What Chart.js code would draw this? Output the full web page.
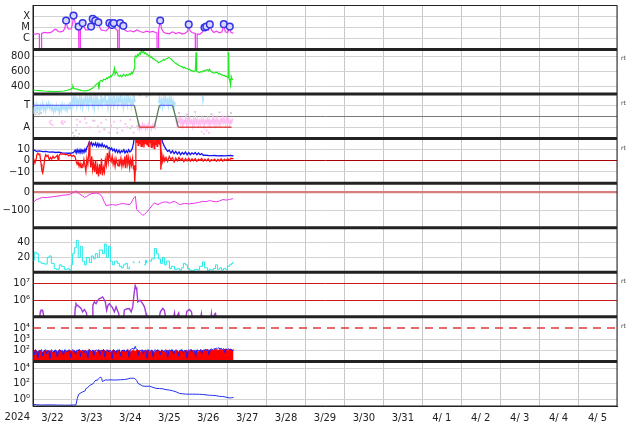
<!DOCTYPE html>
<html>
<head>
<meta charset="utf-8">
<script src="https://cdn.jsdelivr.net/npm/chart.js@4.4.1/dist/chart.umd.min.js"></script>
<style>
    html, body { margin: 0; padding: 0; background: #fff; }
    canvas { display: block; }
</style>
</head>
<body>
<canvas id="spaceWeatherChart" width="634" height="424"></canvas>
<script>
// time axis: hours since 3/22 00:00, one label per day
const yearLabel = '2024';
const dayLabels = ['3/22', '3/23', '3/24', '3/25', '3/26', '3/27', '3/28', '3/29', '3/30', '3/31', '4/ 1', '4/ 2', '4/ 3', '4/ 4', '4/ 5'];

// panel tick values and labels
const xrayTicks = [1e-6, 1e-5, 1e-4];
const xrayTickLabels = ['C', 'M', 'X'];
const windTicks = [400, 600, 800];
const windTickLabels = ['400', '600', '800'];
const sectorTicks = [-1, 0, 1];
const sectorTickLabels = ['A', '', 'T'];
const imfTicks = [-10, 0, 10];
const imfTickLabels = ['\u221210', '0', '10'];
const dstTicks = [-100, 0];
const dstTickLabels = ['\u2212100', '0'];
const densTicks = [20, 40];
const densTickLabels = ['20', '40'];
const pfluxTicks = [1e6, 1e7];
const pfluxTickLabels = ['10\u2076', '10\u2077'];
const elecTicks = [1e2, 1e3, 1e4];
const elecTickLabels = ['10\u00b2', '10\u00b3', '10\u2074'];
const hiprotTicks = [1, 1e2, 1e4];
const hiprotTickLabels = ['10\u2070', '10\u00b2', '10\u2074'];

// series: [hour, value]
const xrayFlux = [[0,2.6e-6],[1.5,2.5e-6],[3,2.8e-6],[3.9,2.6e-6],[4,5e-8],[5.2,5e-8],[5.3,2.8e-6],[7,3.5e-6],[9,3.2e-6],[11,3.5e-6],[12.5,5.0e-6],[13.5,7.0e-6],[14.5,6.5e-6],[15.5,4.3e-6],[17,4.0e-6],[18.5,4.6e-6],[19.6,8e-6],[20.4,4.3e-5],[21.2,1.0e-5],[22,7.0e-6],[23.5,7.5e-6],[24.4,2.0e-5],[25,1.2e-4],[26,2.5e-5],[27,1.7e-5],[28.1,1.2e-5],[28.3,5e-8],[29.1,5e-8],[29.2,1.0e-5],[30.6,2.5e-5],[31.5,1.0e-5],[32.5,6.0e-6],[34,6.0e-6],[35,8e-6],[35.8,1.2e-5],[36.3,1.5e-5],[36.8,6.0e-5],[37.4,2.5e-5],[38.4,4.3e-5],[39.2,2.0e-5],[40.3,3.0e-5],[41,1.2e-5],[42,6e-6],[43.5,5.3e-6],[45,5.0e-6],[46.5,8e-6],[47.1,2.5e-5],[47.8,1.2e-5],[48.7,1.7e-5],[49.7,2.5e-5],[50.5,9e-6],[51.5,6e-6],[52.1,5.5e-6],[52.2,5e-8],[53.1,5e-8],[53.2,8e-6],[53.7,2.5e-5],[54.6,1.0e-5],[55.7,1.4e-5],[56.5,6e-6],[58,4.3e-6],[60,5e-6],[62,4.0e-6],[64,6e-6],[66,4.3e-6],[68,3.5e-6],[70,4.6e-6],[72,3.7e-6],[74,4.3e-6],[75.5,3.5e-6],[76.4,3.2e-6],[76.5,5e-8],[77.3,5e-8],[77.4,5e-6],[78.4,4.3e-5],[79.2,8e-6],[80.5,3.7e-6],[82,3.0e-6],[84,2.6e-6],[86,4.0e-6],[88,2.8e-6],[90,3.5e-6],[92,2.5e-6],[94,3.0e-6],[95.3,4.5e-6],[96,1.9e-5],[96.8,5e-6],[98,3.5e-6],[100,2.8e-6],[100.1,5e-8],[101.1,5e-8],[101.2,2.6e-6],[103,2.5e-6],[104.5,4e-6],[105.7,1.0e-5],[106.3,6e-6],[106.8,1.2e-5],[108,6e-6],[109,1.9e-5],[110,6e-6],[111.5,3.5e-6],[113,4.5e-6],[115,3.2e-6],[116.5,4.0e-6],[117.6,2.0e-5],[118.5,4.0e-6],[120,3.5e-6],[121.3,1.2e-5],[122,3.5e-6],[123.6,3.0e-6]];
const flarePeaks = [[20.4,4.3e-5],[25,1.2e-4],[28.1,1.2e-5],[30.6,2.5e-5],[35.8,1.2e-5],[36.8,6.0e-5],[38.4,4.3e-5],[40.3,3.0e-5],[47.1,2.5e-5],[48.7,1.7e-5],[49.7,2.5e-5],[53.7,2.5e-5],[55.7,1.4e-5],[78.4,4.3e-5],[96,1.9e-5],[105.7,1.0e-5],[106.8,1.2e-5],[109,1.9e-5],[117.6,2.0e-5],[121.3,1.2e-5]];

const windSpeed = [[0,355],[1.4,350],[3.9,346],[7,340],[10,336],[13,331],[16,334],[19,340],[21,350],[23,362],[24.2,378],[24.6,405],[25.2,372],[27.3,366],[29.8,346],[32.3,341],[34.7,352],[36.6,376],[37.8,402],[39.1,430],[40.3,452],[40.6,362],[41.2,470],[42,485],[42.8,470],[43.6,500],[44.6,492],[45.3,515],[45.8,505],[46.5,528],[47.1,520],[47.8,545],[48.3,532],[49,560],[49.5,578],[50.2,645],[50.6,565],[51.3,600],[52,575],[52.6,548],[53.2,535],[54,552],[54.6,530],[55.1,540],[55.8,565],[56.3,550],[57,540],[57.6,560],[58.4,548],[59.4,572],[60,560],[60.7,590],[61.3,575],[61.9,605],[62.4,640],[62.7,780],[63.1,812],[63.8,795],[64.4,830],[65,815],[65.6,850],[66.2,835],[66.8,882],[67.4,860],[68.1,870],[68.7,845],[69.3,855],[70,830],[70.5,838],[71.2,812],[71.8,820],[72.4,795],[73,800],[73.8,775],[74.8,770],[75.6,750],[76.7,742],[77.3,722],[77.9,728],[78.8,740],[79.8,750],[80.4,765],[81,755],[81.8,770],[82.9,780],[83.5,792],[84.1,785],[84.8,775],[85.3,770],[86.2,745],[87.2,725],[88,712],[89,700],[89.6,688],[90.3,680],[91.2,672],[92.1,665],[92.8,650],[93.4,660],[94.3,645],[95.3,640],[95.9,625],[96.4,635],[97.3,618],[98.3,612],[99.2,600],[100.1,618],[100.5,860],[100.9,605],[101.7,595],[102.6,588],[103.5,602],[104.5,598],[105.2,615],[105.7,608],[106.6,622],[107.6,628],[108.2,610],[108.8,634],[109.4,612],[110,600],[110.9,588],[111.9,580],[112.8,595],[113.7,588],[114.4,570],[115,578],[115.7,565],[116.2,560],[117.1,550],[118,548],[118.7,535],[119.3,540],[120,525],[120.4,520],[120.6,865],[120.9,505],[121.4,470],[121.8,420],[122.2,535],[122.7,500],[123.3,490]];

// IMF sector: T = +1, A = -1
const sectorLine = [[0,1],[62.5,1],[65.6,-1],[74.8,-1],[77.9,1],[86,1],[89.6,-1],[122.4,-1]];
const towardAngle = [[0,0.8],[0.6,0.3],[1.2,1.0],[1.8,0.5],[2.4,1.1],[3,0.6],[3.6,0.9],[4.2,0.4],[4.8,1.0],[5.4,0.7],[6,1.2],[6.6,0.6],[7.2,0.9],[7.8,0.5],[8.4,1.1],[9,0.8],[9.6,1.2],[10.2,0.7],[10.8,1.0],[11.4,0.6],[12,0.9],[12.6,0.4],[13.2,0.8],[13.8,0.5],[14.4,1.0],[15,0.6],[15.6,0.8],[16.2,0.3],[16.8,0.9],[17.4,0.5],[18,1.1],[18.6,0.7],[19.2,1.0],[19.8,0.6],[20.4,0.9],[21,0.5],[21.6,1.0],[22.2,0.7],[22.8,1.3],[23.4,0.8],[24,1.6],[24.6,1.0],[25.2,1.8],[25.8,1.2],[26.4,1.7],[27,0.9],[27.6,1.5],[28.2,1.1],[28.8,1.8],[29.4,1.0],[30,1.6],[30.6,0.8],[31.2,1.5],[31.8,1.2],[32.4,1.9],[33,1.1],[33.6,1.6],[34.2,0.9],[34.8,1.7],[35.4,1.3],[36,1.8],[36.6,1.0],[37.2,1.5],[37.8,0.7],[38.4,1.6],[39,1.2],[39.6,1.8],[40.2,0.9],[40.8,1.4],[41.4,1.1],[42,1.7],[42.6,1.0],[43.2,1.6],[43.8,1.3],[44.4,1.9],[45,1.0],[45.6,1.5],[46.2,0.8],[46.8,1.7],[47.4,1.2],[48,1.8],[48.6,1.1],[49.2,1.6],[49.8,0.9],[50.4,1.5],[51,1.2],[51.6,1.8],[52.2,1.0],[52.8,1.6],[53.4,1.3],[54,1.9],[54.6,1.1],[55.2,1.5],[55.8,0.8],[56.4,1.7],[57,1.2],[57.6,1.6],[58.2,1.0],[58.8,1.8],[59.4,1.3],[60,1.6],[60.6,0.9],[61.2,1.5],[61.8,1.1],[62.4,1.7],[63,1.3],[63.5,null],[77.4,1.2],[78,1.7],[78.6,1.0],[79.2,1.5],[79.8,0.8],[80.4,1.6],[81,1.1],[81.6,1.8],[82.2,1.2],[82.8,1.5],[83.4,0.9],[84,1.6],[84.6,1.2],[85.2,1.7],[85.8,1.0],[86.4,1.4],[87,0.8],[87.6,1.3],[88,null],[104.4,1.9],[104.7,1.4],[105.2,1.7]];
const awayAngle = [[64,-0.8],[64.6,-1.1],[65.2,-0.7],[65.8,-1.2],[66.4,-0.9],[67,-1.1],[67.6,-0.7],[68.2,-1.0],[68.8,-0.8],[69.4,-1.2],[70,-0.9],[70.6,-1.1],[71.2,-0.7],[71.8,-1.0],[72.4,-0.9],[73,-1.2],[73.6,-0.8],[74.2,-1.0],[74.8,-0.7],[75.4,-1.1],[76,-0.9],[76.5,null],[88.2,-0.3],[88.8,-0.8],[89.4,-0.2],[90,-0.6],[90.6,-0.1],[91.2,-0.7],[91.8,-0.3],[92.4,-0.9],[93,-0.4],[93.6,-0.6],[94.2,-0.1],[94.8,-0.8],[95.4,-0.3],[96,-0.7],[96.6,-0.2],[97.2,-0.6],[97.8,-0.4],[98.4,-0.9],[99,-0.3],[99.6,-0.7],[100.2,-0.1],[100.8,-0.6],[101.4,-0.3],[102,-0.8],[102.6,-0.4],[103.2,-0.7],[103.8,-0.2],[104.4,-0.6],[105,-0.3],[105.6,-0.9],[106.2,-0.4],[106.8,-0.6],[107.4,-0.2],[108,-0.7],[108.6,-0.3],[109.2,-0.8],[109.8,-0.4],[110.4,-0.6],[111,-0.1],[111.6,-0.7],[112.2,-0.3],[112.8,-0.6],[113.4,-0.2],[114,-0.7],[114.6,-0.4],[115.2,-0.8],[115.8,-0.3],[116.4,-0.6],[117,-0.1],[117.6,-0.6],[118.2,-0.3],[118.8,-0.7],[119.4,-0.2],[120,-0.6],[120.6,-0.3],[121.2,-0.8],[121.8,-0.4],[122.4,-0.6],[123,-0.2]];
const awayScatter = [[10.3,-0.5],[10.8,-0.7],[11.3,-0.4],[12,-0.8],[17.5,-0.6],[18,-0.45],[18.5,-0.7],[19.5,-0.5],[27,-0.3],[27.2,-0.8],[29,-0.5],[32,-0.2],[33,-0.6],[35,-1.0],[38,-0.4],[40,-0.9],[41,-1.4],[42,-0.6],[44,-1.2],[45,-0.3],[47,-1.5],[48,-0.8],[50,-0.5],[52,-1.1],[54,-0.4],[55,-1.3],[57,-0.7],[58,-1.0],[60,-0.3],[61,-0.9],[62,-1.5],[104,-1.4],[105.5,-1.6],[107,-1.3],[108.5,-1.5]];
const mixedScatter = [[0.5,0.3],[1.5,0.15],[2.5,0.35],[3.5,0.2],[5,0.3],[24.5,-1.5],[25.5,-1.8],[26.5,-1.3],[27.5,-1.9],[28.5,-1.6],[38,1.9],[42,1.8],[46,1.95],[50,1.75],[54,1.85],[58,1.9],[62,1.8],[44,-1.2],[52,-1.5],[60,-1.1],[66,1.9],[70,1.8],[90,0.3],[95,0.15],[100,0.4],[110,0.2],[115,0.35],[120,0.1],[122,0.3],[37,-0.4],[48,-0.9]];

const btField = [[0,9],[1,9.5],[2,8.5],[4,9],[6,8.2],[8,8.5],[10,7.8],[12,8],[14,7.5],[16,7.8],[18,7.2],[20,7],[22,6.8],[24,7],[25,7.5],[26,9.5],[26.6,7],[27.2,10],[27.8,7.5],[28.4,9.8],[29,7.2],[29.6,10],[30.2,8],[30.8,9.5],[31.4,7.5],[32,10.5],[32.6,8.5],[33.2,12],[34,14],[34.7,17],[35.3,14.5],[36,16.5],[36.6,13.5],[37.2,15.5],[38,14],[38.6,16],[39.2,13],[40,15.6],[40.6,12.8],[41.2,15],[42,13],[42.6,15.5],[43.3,12.7],[44,14],[44.8,12],[45.5,13.5],[46.3,11],[47,12],[47.7,10],[48.5,11.5],[49.2,9],[50,10.5],[50.7,8],[51.5,10],[52.2,7.5],[53,9.5],[53.7,7],[54.5,9],[55.2,8],[56,10],[56.7,7],[57.5,9],[58.2,7.5],[59,10],[59.7,8],[60.5,9],[61.2,11],[62,16],[62.5,25],[79,25],[79.8,17],[81,13],[82.3,9.8],[83,8.5],[84,9.5],[85,7],[86,9],[87,6.5],[88,8.5],[89,6],[90,8],[91,5.5],[92,7.5],[93,6],[94,8],[95,5.5],[96,7.5],[97,5.5],[98,7.2],[99,6],[100,7.5],[101,5.5],[102,7],[103,5.5],[104,6.5],[105,5],[106,5.2],[108,4.8],[110,4.6],[112,4.8],[114,4.5],[116,4.7],[118,4.4],[120,4.6],[122,4.8],[123.6,4.5]];
const bzField = [[0,-1],[0.6,1],[1.2,-2],[1.8,0.5],[2.4,5.5],[3,6.8],[3.6,5.5],[4.2,6],[5,-3],[5.5,-9],[6,-11],[6.6,-6],[7.2,2],[7.8,5.5],[8.5,4],[9.2,5],[10,1],[10.8,3],[11.5,1.5],[12.3,4],[13,2.5],[14,3.5],[15,5],[15.5,0.5],[16,4.5],[17,6.5],[18,5.8],[19,6.2],[20,5.5],[21,6],[22,4.5],[23,5.5],[24,4],[25,5],[26,3.5],[26.6,-0.5],[27.2,-3],[27.8,-1],[28.4,-5],[29,-2],[29.6,-6],[30.2,-3.5],[30.8,-5],[31.4,1],[32,-4],[32.6,-9.5],[33.2,2],[33.8,-3],[34.4,8],[34.7,17],[35.1,3],[35.6,-6],[36.2,4],[36.8,-8],[37.4,-2],[38,-10],[38.6,0],[39.2,-12],[39.8,-5],[40.4,-14],[41,-3],[41.6,-12],[42.2,2],[42.8,-13],[43.4,-6],[44,-10],[44.6,1],[45.2,-4],[45.8,7],[46.4,-1],[47,8],[47.6,2],[48.2,-0.5],[48.8,4],[49.4,-3],[50,1],[50.6,-5],[51.2,2],[51.8,-2],[52.4,-4.5],[53,1.5],[53.6,-3],[54.2,2.3],[54.8,-5],[55.4,0],[56,-4],[56.6,4],[57.2,-6.6],[57.8,5.6],[58.4,-3],[59,3],[59.6,-6],[60.2,1],[60.8,-4],[61.4,2],[62,-8],[62.3,-4],[62.7,-19],[63.1,-8],[63.4,25],[63.9,16],[64.3,25],[64.8,14],[65.2,22],[65.7,15],[66.1,25],[66.6,13],[67,20],[67.5,16],[67.9,25],[68.4,12],[68.8,22],[69.3,15],[69.7,25],[70.2,14],[70.6,19],[71.1,13],[71.5,25],[72,16],[72.4,21],[72.9,12],[73.3,25],[73.8,15],[74.2,18],[74.7,11],[75.1,25],[75.6,14],[76,20],[76.5,13],[76.9,25],[77.4,15],[77.8,22],[78.2,14],[78.5,20],[78.8,-8],[79.5,5],[80,-0.6],[80.6,3.8],[81.2,0],[82,3],[83,-0.5],[84,4],[85,1],[86,3],[87,-1],[88,2.5],[89,0],[90,3],[91,0.5],[92,2.3],[93,-0.6],[94,2],[95,0],[96,2.3],[97,-0.3],[98,1.8],[99,0],[100,2],[101,-0.5],[102,1.5],[103,0.5],[104,2],[105,-0.3],[106,1.5],[107,0],[108,1.8],[109,-0.5],[110,1.2],[111,0.3],[112,1.5],[113,-0.4],[114,1.2],[115,0],[116,1.8],[117,-0.3],[118,1.5],[119,0.2],[120,2],[121,0.5],[122,2.3],[123.6,2]];

const dstIndex = [[0,-57],[1.9,-42],[3.9,-35],[5.9,-28],[8,-30],[10,-27],[12.1,-25],[14.2,-22],[16.2,-20],[18.3,-17],[20.4,-15],[22.4,-13],[24.4,-4],[25.5,2],[26.5,8],[27.5,0],[28.6,-10],[30.6,-20],[31.7,-28],[32.9,-25],[34.7,-13],[36,-8],[37.8,-6],[39.1,-5],[40.9,-10],[42.1,-18],[42.9,-31],[44,-55],[45,-73],[47.1,-70],[48.9,-68],[51.2,-71],[53.2,-66],[55.3,-62],[57.4,-65],[59.4,-68],[60.5,-60],[61.5,-40],[62.5,-28],[63.1,-22],[63.9,-95],[65.6,-109],[66.6,-118],[67.6,-127],[68.7,-122],[69.7,-113],[70.7,-104],[71.8,-91],[73.3,-75],[74.8,-59],[76.9,-68],[79,-59],[80.4,-55],[82.1,-53],[84.1,-60],[85.6,-55],[87.2,-50],[88.7,-58],[90.3,-68],[93.4,-62],[96.4,-64],[100.6,-59],[102.6,-55],[104.6,-50],[106.7,-52],[108.8,-46],[110.8,-50],[112.9,-53],[115,-48],[117,-40],[119.1,-43],[121.1,-40],[123.2,-35]];

const windDensity = [[0,16],[0.8,27],[2,25],[3.3,14],[5.1,12],[7,11],[8.8,20],[10,22],[11.3,12],[13.1,5],[14.4,4],[16.2,10],[17.5,8],[19.3,4],[21.2,5],[22.4,3],[23.6,10],[24.4,25],[25.5,33],[26.7,43],[27.9,20],[29.2,35],[30.4,15],[31.7,10],[32.9,20],[34.7,13],[36,22],[37.2,18],[38.4,25],[39.7,20],[40.9,30],[42.8,25],[44,38],[45.2,20],[46.5,35],[47.7,15],[48.9,10],[50.2,15],[52,12],[53.2,8],[54.5,6],[55.7,10],[56.9,12],[58.2,5],[59.4,8],[60,null],[61.5,14],[62.2,12],[62.8,null],[65,13],[65.7,15],[66.3,null],[68.5,10],[69.3,16],[70,12],[70.6,null],[71.8,15],[73,18],[74.8,32],[76.1,25],[77.3,18],[78.6,12],[79.8,20],[81,10],[82.2,15],[84.1,5],[85.3,8],[87.2,4],[89,5],[90.3,3],[91.5,6],[92.7,12],[94,10],[95.2,5],[96.4,3],[97.7,2],[99.5,4],[101.4,3],[102.6,8],[104.5,14],[105.7,6],[107.6,2],[108.8,4],[110,3],[111.2,5],[112.5,10],[113.7,4],[115,6],[116.2,3],[117.4,5],[118.7,4],[119.9,8],[121.1,10],[122.4,12],[123.2,14]];

const protonFlux = [[3.9,5e4],[4.5,2.0e5],[4.9,2.5e5],[5.9,2.5e5],[6.4,1.5e5],[7,5e4],[7.5,null],[25.5,5e4],[26.1,4e5],[26.5,6.3e5],[27.3,5e5],[28.6,4e5],[29.6,3.2e5],[30.6,2e5],[31.7,2.8e5],[32.9,1.8e5],[33.7,5e4],[34,null],[36.6,5e4],[36.9,5e5],[37.8,7.9e5],[38.9,6.3e5],[39.7,9e5],[40.9,1.26e6],[42,1.4e6],[42.9,1.6e6],[43.7,1.2e6],[44.6,7.9e5],[45.4,2.5e5],[46.2,5e5],[47.1,6.3e5],[47.7,5e5],[48.7,4e5],[50.2,2e5],[51.2,4e5],[52,2.5e5],[52.8,1.6e5],[53.7,5e4],[54,null],[55.7,5e4],[56.3,2.5e5],[57.6,3e5],[59.4,3.2e5],[60.5,2e5],[61.5,4e5],[62.2,2e6],[63,7.9e6],[63.5,6e6],[64,4e6],[64.6,7.9e5],[65.4,9e5],[66,1e6],[66.8,8e5],[67.6,6.3e5],[68.7,4e5],[69.7,1.6e5],[70.1,5e4],[70.5,null],[77.3,5e4],[78.5,2e5],[80,3.2e5],[81,2.5e5],[82.2,5e4],[82.5,null],[86.3,5e4],[87.2,1.7e5],[88.1,5e4],[89,1.2e5],[89.8,1.7e5],[90.6,5e4],[91,null],[93.7,5e4],[94.9,2.2e5],[96.4,2.8e5],[97.7,2e5],[98.5,5e4],[99,null],[103.2,5e4],[103.8,1.5e5],[104.5,5e4],[105,null],[109.4,5e4],[110,1.6e5],[110.6,5e4],[111.9,1.4e5],[112.5,1.6e5],[113.4,5e4]];

const electronAlert = [[0,1e4],[360,1e4]];
const electronRed = [[0,80],[1.5,105],[3,70],[4.5,95],[6,60],[7.5,110],[9,75],[10.5,90],[12,65],[13.5,100],[15,72],[16.5,115],[18,68],[19.5,92],[21,78],[22.5,108],[24,70],[25.5,95],[27,62],[28.5,112],[30,76],[31.5,98],[33,68],[34.5,118],[36,74],[37.5,96],[39,66],[40.5,105],[42,80],[43.5,115],[45,70],[46.5,100],[48,64],[49.5,110],[51,78],[52.5,94],[54,68],[55.5,106],[57,75],[58.5,118],[60,70],[61.5,98],[63,80],[64.5,112],[66,66],[67.5,100],[69,76],[70.5,108],[72,70],[73.5,95],[75,64],[76.5,110],[78,72],[79.5,96],[81,68],[82.5,104],[84,78],[85.5,112],[87,70],[88.5,98],[90,66],[91.5,108],[93,75],[94.5,100],[96,70],[97.5,115],[99,78],[100.5,96],[102,72],[103.5,110],[105,80],[106.5,120],[108,85],[109.5,115],[111,90],[112.5,125],[114,95],[115.5,120],[117,100],[118.5,130],[120,98],[121.5,125],[123,105],[123.6,100]];
const electronBlue = [[0,95],[0.8,40],[1.5,110],[2.3,85],[3,20],[3.8,100],[4.5,90],[5.3,115],[6,30],[6.8,95],[7.5,105],[8.3,50],[9,100],[9.8,88],[10.5,18],[11.3,112],[12,92],[12.8,60],[13.5,105],[14.3,98],[15,25],[15.8,90],[16.5,108],[17.3,80],[18,100],[18.8,35],[19.5,112],[20.3,95],[21,70],[21.8,105],[22.5,90],[23.3,22],[24,100],[24.8,110],[25.5,85],[26.3,45],[27,104],[27.8,95],[28.5,115],[29.3,28],[30,92],[30.8,106],[31.5,60],[32.3,100],[33,88],[33.8,20],[34.5,110],[35.3,98],[36,75],[36.8,108],[37.5,32],[38.3,96],[39,104],[39.8,85],[40.5,112],[41.3,40],[42,100],[42.8,92],[43.5,115],[44.3,26],[45,98],[45.8,108],[46.5,70],[47.3,102],[48,90],[48.8,18],[49.5,110],[50.3,95],[51,55],[51.8,105],[52.5,98],[53.3,112],[54,30],[54.8,100],[55.5,90],[56.3,108],[57,65],[57.8,102],[58.5,95],[59.3,24],[60,115],[60.8,130],[61.5,150],[62.3,120],[63,220],[63.6,140],[64.3,110],[65,35],[65.8,100],[66.5,92],[67.3,108],[68,50],[68.8,98],[69.5,104],[70.3,20],[71,110],[71.8,95],[72.5,88],[73.3,106],[74,28],[74.8,100],[75.5,112],[76.3,80],[77,104],[77.8,95],[78.5,40],[79.3,108],[80,98],[80.8,70],[81.5,110],[82.3,92],[83,22],[83.8,105],[84.5,100],[85.3,85],[86,112],[86.8,45],[87.5,98],[88.3,106],[89,90],[89.8,30],[90.5,104],[91.3,96],[92,110],[92.8,60],[93.5,100],[94.3,92],[95,20],[95.8,108],[96.5,98],[97.3,112],[98,75],[98.8,104],[99.5,94],[100.3,26],[101,110],[101.8,100],[102.5,88],[103.3,112],[104,50],[104.8,106],[105.5,100],[106.3,118],[107,92],[107.8,125],[108.5,40],[109.3,115],[110,130],[110.8,110],[111.5,140],[112.3,125],[113,160],[113.8,135],[114.5,170],[115.3,130],[116,150],[116.8,120],[117.5,140],[118.3,60],[119,130],[119.8,115],[120.5,135],[121.3,105],[122,128],[122.8,90],[123.6,120]];

const highEnergyProton = [[0,0.25],[2,0.22],[5,0.2],[10,0.21],[15,0.2],[20,0.19],[25,0.2],[26.5,0.21],[27.3,1.35],[28.1,4.5],[29,6],[30.6,9.5],[32,12],[32.7,26],[33.5,30],[34.7,56],[35.5,70],[36.8,93],[37.5,150],[38.9,310],[39.5,250],[40.2,420],[41.2,620],[41.8,700],[42.3,500],[42.8,190],[43.5,230],[44.6,310],[46,300],[48,320],[50,300],[52,310],[54,330],[56.5,350],[58.5,420],[59.9,510],[61,500],[62,520],[63,420],[64,250],[64.7,115],[66,80],[67.6,52],[69.7,48],[71.8,50],[74,35],[75.9,26],[78,25],[80,23],[82,18],[84.1,16],[86,13],[88.2,9.5],[90.3,6],[92,5.4],[94,4.9],[96.4,4.8],[98.5,4.8],[100.6,4.7],[102.6,4.6],[104.6,4.4],[106.7,3.9],[108.8,3.5],[110.8,3.3],[112.9,3.1],[115,2.5],[117,2.4],[119,2.0],[121.1,1.6],[122.5,1.7],[123.6,1.8]];

const rtPanels = ['wind', 'sector', 'imf', 'pflux', 'elec'];

const panels = [
    { id: 'xray', log: true, min: 1e-7, max: 1e-3, ticks: xrayTicks, labels: xrayTickLabels, weight: 0.985 },
    { id: 'wind', min: 300, max: 900, ticks: windTicks, labels: windTickLabels },
    { id: 'sector', min: -2.03, max: 2.03, ticks: sectorTicks, labels: sectorTickLabels, lineColor: v => v === 0 ? '#7a7a7a' : null },
    { id: 'imf', min: -20, max: 20, ticks: imfTicks, labels: imfTickLabels, lineColor: v => v === 0 ? '#a80000' : null },
    { id: 'dst', min: -195, max: 50, ticks: dstTicks, labels: dstTickLabels, lineColor: v => v === 0 ? '#d77d7d' : null, lineWidth: v => v === 0 ? 2.2 : 1 },
    { id: 'dens', min: 0, max: 60, ticks: densTicks, labels: densTickLabels },
    { id: 'pflux', log: true, min: 1e5, max: 4.9e7, ticks: pfluxTicks, labels: pfluxTickLabels, lineColor: () => '#cc1a1a' },
    { id: 'elec', log: true, min: 10, max: 1e5, ticks: elecTicks, labels: elecTickLabels, lineColor: v => v === 1e4 ? 'rgba(0,0,0,0)' : null },
    { id: 'hiprot', log: true, min: 0.15, max: 7e4, ticks: hiprotTicks, labels: hiprotTickLabels }
];

const FONT = 'DejaVu Sans';
const GRID = '#d2d2d2';

const toPoints = pairs => pairs.map(([x, y]) => ({ x, y }));
const lineBase = { pointRadius: 0, borderWidth: 1, tension: 0, clip: 0, spanGaps: false, fill: false };
const dotBase = { showLine: false, pointRadius: 1.3, pointStyle: 'rect', pointBorderWidth: 0, clip: 0 };

function panelAxis(p, idx) {
    return {
        type: p.log ? 'logarithmic' : 'linear',
        position: 'left',
        stack: 'panels',
        stackWeight: p.weight || 1,
        weight: panels.length - idx,
        bounds: 'data',
        min: p.min,
        max: p.max,
        afterBuildTicks: scale => { scale.ticks = p.ticks.map(v => ({ value: v })); },
        afterFit: scale => { scale.width = 33; scale.paddingTop = 0; scale.paddingBottom = 0; },
        ticks: {
            autoSkip: false,
            padding: 3,
            color: '#222',
            font: { family: FONT, size: 10 },
            callback: (v, i) => p.labels[i]
        },
        grid: {
            drawTicks: false,
            color: ctx => (p.lineColor && p.lineColor(ctx.tick.value)) || GRID,
            lineWidth: ctx => p.lineWidth ? p.lineWidth(ctx.tick.value) : 1
        },
        border: { color: '#222', width: 1 }
    };
}

const scales = {
    x: {
        type: 'linear',
        position: 'bottom',
        min: 0,
        max: dayLabels.length * 24,
        afterBuildTicks: scale => {
            const ticks = [];
            dayLabels.forEach((d, i) => {
                ticks.push({ value: i * 24 });
                ticks.push({ value: i * 24 + 12 });
            });
            ticks.push({ value: dayLabels.length * 24 });
            scale.ticks = ticks;
        },
        afterFit: scale => { scale.height = 18; scale.paddingLeft = 0; scale.paddingRight = 0; },
        ticks: {
            autoSkip: false,
            maxRotation: 0,
            padding: 6,
            color: '#222',
            font: { family: FONT, size: 10 },
            callback: v => v % 24 === 12 ? dayLabels[(v - 12) / 24] : ''
        },
        grid: {
            drawTicks: false,
            color: ctx => ctx.tick && ctx.tick.value % 24 === 0 ? '#c8c8c8' : 'rgba(0,0,0,0)'
        },
        border: { color: '#222', width: 1 }
    }
};
panels.forEach((p, i) => { scales[p.id] = panelAxis(p, i); });

const panelFrame = {
    id: 'panelFrame',
    afterDraw(chart) {
        const { ctx, chartArea } = chart;
        ctx.save();
        ctx.strokeStyle = '#222';
        ctx.lineWidth = 1;
        ctx.strokeRect(chartArea.left, chartArea.top, chartArea.right - chartArea.left, chartArea.bottom - chartArea.top);
        ctx.lineWidth = 3;
        panels.slice(0, -1).forEach(p => {
            const y = chart.scales[p.id].bottom;
            ctx.beginPath();
            ctx.moveTo(chartArea.left, y);
            ctx.lineTo(chartArea.right, y);
            ctx.stroke();
        });
        ctx.fillStyle = '#444';
        ctx.font = '6px ' + FONT;
        ctx.textBaseline = 'middle';
        rtPanels.forEach(id => ctx.fillText('rt', chartArea.right + 4, chart.scales[id].top + 9.5));
        ctx.fillStyle = '#222';
        ctx.font = '10px ' + FONT;
        ctx.textAlign = 'right';
        ctx.fillText(yearLabel, chartArea.left - 3, chart.scales.x.top + 11);
        ctx.restore();
    }
};

const datasets = [
    { ...dotBase, label: 'Flares', yAxisID: 'xray', data: toPoints(flarePeaks), pointStyle: 'circle', pointRadius: 3.3,
      pointBackgroundColor: '#d6d6ff', pointBorderColor: '#3434e4', pointBorderWidth: 1.5, order: 0 },
    { ...lineBase, label: 'X-ray', yAxisID: 'xray', data: toPoints(xrayFlux), borderColor: '#f23cf2', borderWidth: 1.2, order: 1 },
    { ...lineBase, label: 'Speed', yAxisID: 'wind', data: toPoints(windSpeed), borderColor: '#22ea22', borderWidth: 1.2 },
    { ...lineBase, label: 'Sector', yAxisID: 'sector', data: toPoints(sectorLine), borderWidth: 1.3, order: 0,
      segment: { borderColor: c => c.p0.parsed.y !== c.p1.parsed.y ? '#5d7d5d' : (c.p0.parsed.y > 0 ? '#6b6bf5' : '#e04848') } },
    { ...lineBase, label: 'Toward', yAxisID: 'sector', data: toPoints(towardAngle), borderColor: '#b2e2fb', borderWidth: 1.5, order: 3 },
    { ...lineBase, label: 'Away', yAxisID: 'sector', data: toPoints(awayAngle), borderColor: '#ffbdf0', borderWidth: 1.5, order: 3 },
    { ...dotBase, label: 'Away dots', yAxisID: 'sector', data: toPoints(awayScatter), pointBackgroundColor: '#ffbdf0', order: 4 },
    { ...dotBase, label: 'Mixed dots', yAxisID: 'sector', data: toPoints(mixedScatter), pointBackgroundColor: '#cccccc', order: 4 },
    { ...lineBase, label: 'Bz', yAxisID: 'imf', data: toPoints(bzField), borderColor: '#ff1414', borderWidth: 1.3, order: 0 },
    { ...lineBase, label: 'Bt', yAxisID: 'imf', data: toPoints(btField), borderColor: '#1616ee', borderWidth: 1.3, order: 1 },
    { ...lineBase, label: 'Dst', yAxisID: 'dst', data: toPoints(dstIndex), borderColor: '#ee33ee' },
    { ...lineBase, label: 'Density', yAxisID: 'dens', data: toPoints(windDensity), borderColor: '#22eaea', stepped: true },
    { ...lineBase, label: 'Proton flux', yAxisID: 'pflux', data: toPoints(protonFlux), borderColor: '#a23ad6', borderWidth: 1.4 },
    { ...lineBase, label: 'Alert', yAxisID: 'elec', data: toPoints(electronAlert), borderColor: '#e03a3a', borderWidth: 1.5, borderDash: [8, 6], order: 0 },
    { ...lineBase, label: 'Electron blue', yAxisID: 'elec', data: toPoints(electronBlue), borderColor: '#1a1aff', order: 1 },
    { ...lineBase, label: 'Electron red', yAxisID: 'elec', data: toPoints(electronRed), borderColor: '#ff0000', backgroundColor: '#ff0000', fill: 'start', order: 2 },
    { ...lineBase, label: '>10MeV', yAxisID: 'hiprot', data: toPoints(highEnergyProton), borderColor: '#2430ee' }
];

new Chart(document.getElementById('spaceWeatherChart').getContext('2d'), {
    type: 'line',
    data: { datasets },
    options: {
        responsive: false,
        animation: false,
        devicePixelRatio: 1,
        events: [],
        layout: { padding: { left: 0, top: 2.5, right: 17, bottom: 0 } },
        plugins: {
            legend: { display: false },
            tooltip: { enabled: false }
        },
        scales
    },
    plugins: [panelFrame]
});
</script>
</body>
</html>
